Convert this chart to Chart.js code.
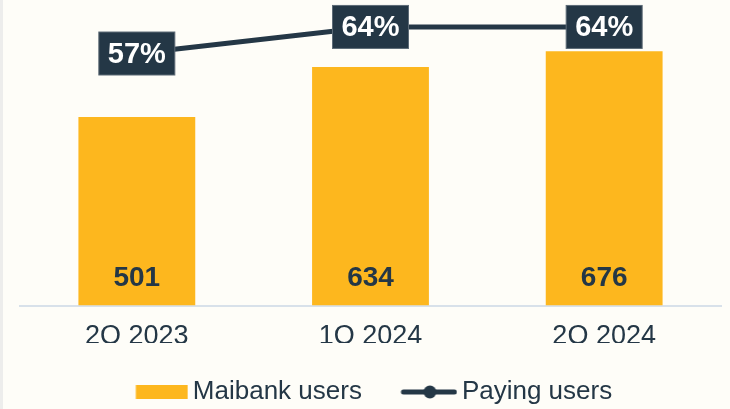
<!DOCTYPE html>
<html>
<head>
<meta charset="utf-8">
<script src="https://cdn.jsdelivr.net/npm/chart.js@4.4.1/dist/chart.umd.min.js"></script>
<style>
  body { margin: 0; background: #fefdf8; }
  #wrap { position: relative; width: 730px; height: 409px; background: linear-gradient(to right, #ededec 3px, #fefdf8 3px); }
</style>
</head>
<body>
<div id="wrap"><canvas id="usersChart"></canvas></div>
<script>
const quarters = ['2Q 2023', '1Q 2024', '2Q 2024'];
const maibankUsers = [501, 634, 676];
const payingShare = [57, 64, 64];

const navy = '#243746';
const yellow = '#fdb71e';
const legendShift = 6;

// legend swatches drawn as small canvases
function makeSwatch(kind) {
    const c = document.createElement('canvas');
    c.width = 68; c.height = 16;
    const g = c.getContext('2d');
    if (kind === 'bar') {
        g.fillStyle = yellow;
        g.fillRect(15.5, 1, 52, 14);
    } else {
        g.strokeStyle = navy;
        g.lineWidth = 5;
        g.lineCap = 'round';
        g.beginPath(); g.moveTo(14, 8); g.lineTo(65, 8); g.stroke();
        g.fillStyle = navy;
        g.beginPath(); g.arc(40.5, 8, 6.5, 0, Math.PI * 2); g.fill();
    }
    return c;
}
const swatches = [makeSwatch('bar'), makeSwatch('line')];

const valueLabels = {
    id: 'valueLabels',
    afterDatasetsDraw(chart) {
        const ctx = chart.ctx;
        const yBase = chart.scales.y.getPixelForValue(0);
        ctx.save();
        ctx.textAlign = 'center';
        ctx.textBaseline = 'middle';
        // bar values near the base
        ctx.fillStyle = navy;
        ctx.font = 'bold 28px "Liberation Sans", Arial, sans-serif';
        chart.getDatasetMeta(0).data.forEach(function(bar, i) {
            ctx.fillText(maibankUsers[i], bar.x, yBase - 27);
        });
        // percentage boxes on the line
        chart.getDatasetMeta(1).data.forEach(function(pt, i) {
            ctx.fillStyle = navy;
            ctx.fillRect(pt.x - 38, pt.y - 21.5, 76, 43);
            ctx.strokeStyle = '#5d6b77';
            ctx.lineWidth = 1;
            ctx.strokeRect(pt.x - 38, pt.y - 21.5, 76, 43);
            ctx.fillStyle = '#ffffff';
            ctx.font = 'bold 29px "Liberation Sans", Arial, sans-serif';
            ctx.fillText(payingShare[i] + '%', pt.x, pt.y + 1);
        });
        ctx.restore();
    }
};

const ctx = document.getElementById('usersChart').getContext('2d');
const chart = new Chart(ctx, {
    data: {
        labels: quarters,
        datasets: [{
            type: 'bar',
            label: 'Maibank users',
            data: maibankUsers,
            backgroundColor: yellow,
            barPercentage: 0.5,
            categoryPercentage: 1.0,
            yAxisID: 'y',
            order: 2
        }, {
            type: 'line',
            label: 'Paying users',
            data: payingShare,
            borderColor: navy,
            borderWidth: 5,
            pointRadius: 0,
            tension: 0,
            yAxisID: 'y1',
            order: 1
        }]
    },
    plugins: [valueLabels],
    options: {
        responsive: true,
        maintainAspectRatio: false,
        animation: false,
        layout: { padding: { left: 20, right: 9, top: 0, bottom: -legendShift } },
        scales: {
            x: {
                grid: { display: false, drawTicks: false },
                border: { display: true, color: '#d8e1ea', width: 2 },
                ticks: {
                    color: navy,
                    padding: 15,
                    font: { family: '"Liberation Sans", Arial, sans-serif', size: 27 }
                },
                afterFit: function(scale) {
                    // keep the baseline where the reference has it
                    scale.height = 409 + legendShift - scale.chart.legend.height - 305.5;
                }
            },
            y: {
                display: false,
                min: 0,
                max: 812
            },
            y1: {
                display: false,
                min: -9.4,
                max: 71.1
            }
        },
        plugins: {
            legend: {
                display: true,
                position: 'bottom',
                labels: {
                    usePointStyle: true,
                    pointStyleWidth: 51,
                    boxHeight: 16,
                    padding: 36,
                    color: navy,
                    font: { family: '"Liberation Sans", Arial, sans-serif', size: 26 },
                    generateLabels: function(chart) {
                        return chart.data.datasets.map(function(ds, i) {
                            return {
                                text: ds.label,
                                pointStyle: swatches[i],
                                fillStyle: 'transparent',
                                strokeStyle: 'transparent',
                                lineWidth: 0,
                                fontColor: navy,
                                datasetIndex: i
                            };
                        });
                    }
                }
            },
            tooltip: { enabled: false }
        }
    }
});
</script>
</body>
</html>
